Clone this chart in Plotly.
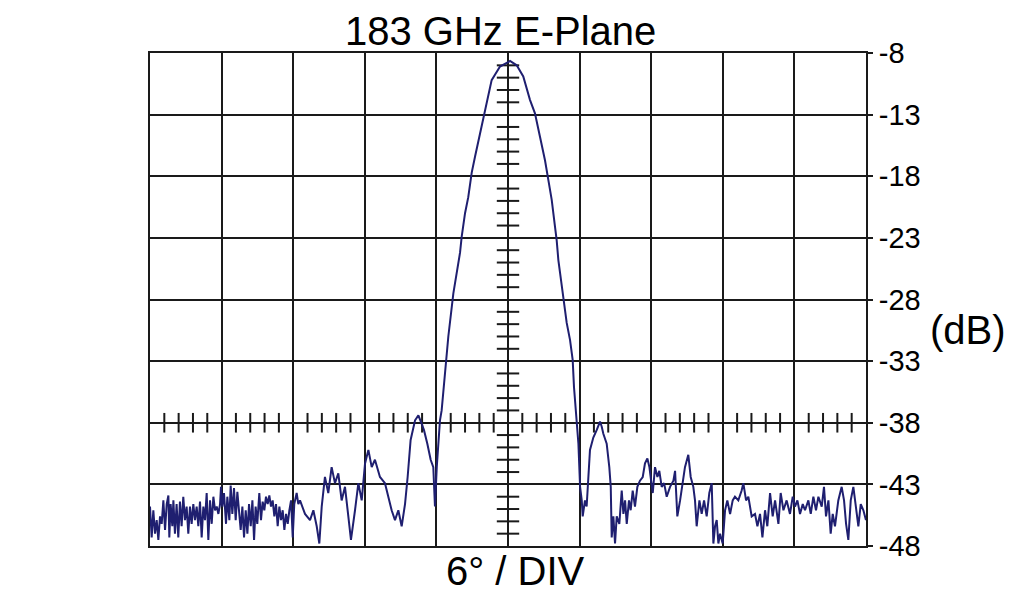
import numpy as np
import plotly.graph_objects as go

angle_deg = [
    -30.00, -29.86, -29.72, -29.58, -29.44, -29.30, -29.16, -29.02, -28.88, -28.74,
    -28.60, -28.46, -28.38, -28.27, -28.13, -28.04, -27.91, -27.77, -27.63, -27.49,
    -27.35, -27.21, -27.07, -26.93, -26.79, -26.65, -26.51, -26.37, -26.23, -26.09,
    -25.95, -25.81, -25.67, -25.53, -25.39, -25.25, -25.11, -24.97, -24.83, -24.69,
    -24.55, -24.41, -24.27, -24.13, -24.05, -23.94, -23.80, -23.63, -23.52, -23.35,
    -23.24, -23.10, -22.96, -22.82, -22.68, -22.54, -22.40, -22.26, -22.12, -21.98,
    -21.84, -21.70, -21.56, -21.42, -21.28, -21.15, -21.01, -20.84, -20.70, -20.56,
    -20.42, -20.28, -20.14, -20.00, -19.86, -19.72, -19.58, -19.44, -19.30, -19.16,
    -19.02, -18.88, -18.74, -18.60, -18.46, -18.32, -18.18, -18.04, -17.91, -17.71,
    -17.57, -17.43, -17.01, -16.59, -16.31, -16.03,
    -15.81, -15.61, -15.34, -15.06, -14.78, -14.50, -14.22, -13.94, -13.66, -13.38,
    -13.16, -12.82, -12.54, -12.26, -11.98, -11.70, -11.42, -11.15, -10.73, -10.31,
    -10.03, -9.75, -9.47, -9.19, -8.91, -8.63, -8.41, -8.16, -7.79, -7.51,
    -7.23, -7.04, -6.76, -6.48, -6.26, -6.12, -5.97, -5.70, -5.56, -5.42,
    -5.14, -5.00, -4.58, -4.02, -3.88, -3.60, -3.33, -3.04, -2.76, -2.35,
    -2.01, -1.65, -1.37, -0.67, 0.17, 0.73, 1.28, 1.84, 2.26, 2.68,
    3.10, 3.38, 3.66, 3.94, 4.08, 4.22, 4.64, 4.92, 5.20, 5.42,
    5.53, 5.65, 5.76, 5.90, 6.04, 6.18, 6.26, 6.45, 6.59, 6.73,
    6.87, 7.01, 7.15, 7.43, 7.71, 7.85, 7.99, 8.27, 8.49, 8.61,
    8.69, 8.83, 8.97, 9.11, 9.33, 9.53, 9.67, 9.81, 9.95, 10.14,
    10.28, 10.45, 10.64, 10.84, 11.06, 11.29, 11.48, 11.68, 11.85, 11.99,
    12.13, 12.32, 12.52, 12.68, 12.88, 13.08, 13.30, 13.58, 13.86, 14.00,
    14.19, 14.42, 14.64, 14.83, 15.11, 15.31, 15.53, 15.67, 15.81, 16.04,
    16.23, 16.43, 16.65, 16.87, 17.07, 17.21, 17.35, 17.49, 17.63, 17.77,
    17.99, 18.19, 18.38, 18.61, 18.83, 19.02, 19.30, 19.58, 19.72, 19.95,
    20.14, 20.42, 20.70, 20.90, 21.12, 21.32, 21.54, 21.73, 21.96, 22.18,
    22.38, 22.66, 22.85, 23.08, 23.35, 23.63, 23.86, 24.05, 24.25, 24.47,
    24.70, 24.89, 25.17, 25.37, 25.59, 25.81, 26.01, 26.29, 26.48, 26.65,
    26.85, 27.04, 27.21, 27.40, 27.68, 27.96, 28.16, 28.33, 28.52, 28.72,
    28.94, 29.16, 29.36, 29.56, 29.78, 30.0,
]
level_db = [
    -44.8, -47.3, -45.1, -47.0, -45.9, -47.5, -45.6, -46.2, -44.3, -46.7,
    -44.6, -43.9, -47.3, -44.6, -46.4, -44.3, -47.0, -44.6, -47.3, -44.4,
    -46.4, -44.0, -45.9, -44.8, -47.0, -44.8, -46.2, -44.6, -45.9, -44.8,
    -46.4, -44.4, -47.3, -44.8, -45.9, -43.7, -47.5, -44.3, -46.2, -44.0,
    -45.1, -44.8, -45.4, -44.6, -43.2, -44.8, -43.7, -46.2, -44.0, -45.9,
    -43.1, -45.4, -43.3, -45.9, -43.6, -45.1, -46.7, -44.8, -47.3, -45.1,
    -47.0, -44.6, -46.4, -44.3, -47.5, -44.8, -46.2, -43.7, -45.9, -44.4,
    -45.1, -44.0, -44.6, -43.9, -44.8, -44.3, -45.6, -44.6, -46.4, -44.8,
    -45.9, -45.1, -46.7, -45.4, -46.2, -45.1, -44.3, -47.3, -44.6, -43.7,
    -44.6, -44.3, -45.4, -45.9, -45.1, -46.4,
    -47.8, -44.8, -42.4, -43.7, -41.6, -42.9, -42.1, -44.3, -43.2, -45.6,
    -47.5, -45.1, -42.9, -44.3, -41.3, -40.2, -41.6, -41.0, -42.4, -42.9,
    -44.0, -45.1, -45.9, -45.1, -46.4, -44.6, -42.4, -39.4, -37.8, -37.4,
    -38.1, -38.6, -39.7, -41.0, -41.6, -44.8, -41.6, -37.8, -37.0, -35.4,
    -32.9, -31.0, -27.5, -24.2, -22.9, -21.0, -19.7, -17.7, -16.4, -14.5,
    -12.9, -11.2, -10.2, -9.1, -8.65, -9.0, -9.9, -11.8, -12.9, -14.8,
    -16.7, -18.3, -19.9, -22.1, -23.2, -24.8, -27.8, -29.9, -31.3, -32.9,
    -35.1, -36.5, -37.8, -39.7, -43.2, -44.3, -45.6, -44.3, -44.8, -42.9,
    -40.2, -39.7, -39.2, -38.6, -37.9, -38.3, -38.9, -39.7, -41.6, -43.2,
    -47.3, -45.6, -47.8, -45.6, -46.2, -43.5, -45.4, -44.3, -46.2, -44.3,
    -45.1, -43.5, -44.8, -43.2, -42.7, -42.4, -41.3, -40.9, -41.6, -42.7,
    -43.7, -41.6, -42.4, -41.9, -43.2, -42.9, -44.0, -43.2, -42.7, -41.9,
    -45.6, -44.3, -42.7, -41.6, -40.6, -42.4, -43.2, -44.3, -46.4, -44.3,
    -45.4, -44.3, -45.6, -43.7, -42.9, -47.8, -46.4, -45.9, -47.8, -47.0,
    -47.8, -45.1, -44.3, -45.4, -44.3, -44.0, -44.3, -43.5, -42.9, -44.3,
    -44.0, -45.6, -45.4, -46.4, -45.4, -47.3, -45.1, -46.4, -43.7, -45.6,
    -44.3, -46.2, -43.7, -45.1, -44.3, -45.4, -44.0, -44.8, -44.3, -45.4,
    -44.6, -45.1, -44.3, -45.4, -44.0, -45.1, -44.0, -44.8, -43.2, -45.6,
    -44.3, -47.0, -45.4, -46.4, -44.3, -43.2, -44.3, -46.2, -47.5, -44.3,
    -43.2, -44.8, -46.4, -44.6, -45.1, -45.9,
]

y_ticks = [-8, -13, -18, -23, -28, -33, -38, -43, -48]
y_tick_text = ["-8", "-13", "-18", "-23", "-28", "-33", "-38", "-43", "-48"]
x_range = [-30, 30]
y_range = [-48, -8]

FONT = "Liberation Sans, Arial, Helvetica, sans-serif"
GRID = "#1a1a1a"

fig = go.Figure()

# minor ticks along the centre vertical line (every 1 dB)
cy = [float(v) for v in np.arange(-47, -8) if (v + 8) % 5 != 0]
fig.add_trace(go.Scatter(x=[0] * len(cy), y=cy, mode="markers",
                         marker=dict(symbol="line-ew", size=16, line=dict(color=GRID, width=2)),
                         hoverinfo="skip", showlegend=False))
# minor ticks along the -38 dB line (every 1.2 deg)
cx = [round(float(v), 2) for v in np.arange(-30, 30.01, 1.2) if abs(round(v / 6) * 6 - v) > 1e-6]
fig.add_trace(go.Scatter(x=cx, y=[-38] * len(cx), mode="markers",
                         marker=dict(symbol="line-ns", size=14, line=dict(color=GRID, width=2)),
                         hoverinfo="skip", showlegend=False))

fig.add_trace(go.Scatter(x=angle_deg, y=level_db, mode="lines",
                         line=dict(color="#1f1f70", width=2),
                         showlegend=False))

fig.update_layout(
    width=1012, height=592,
    margin=dict(l=142, r=154, t=45, b=54, autoexpand=False),
    paper_bgcolor="white", plot_bgcolor="white",
    font=dict(family=FONT, color="black"),
    showlegend=False,
)
fig.update_xaxes(range=x_range, dtick=6, tick0=0, showgrid=True, gridcolor=GRID, gridwidth=1.6,
                 showticklabels=False, ticks="", zeroline=False, automargin=False,
                 showline=True, linecolor=GRID, linewidth=2, mirror=True)
fig.update_yaxes(range=y_range, tickvals=y_ticks, ticktext=y_tick_text, side="right",
                 showgrid=True, gridcolor=GRID, automargin=False,
                 gridwidth=1.6, ticks="outside", ticklen=5, tickcolor=GRID, tickwidth=1.5,
                 tickfont=dict(size=29, family=FONT), zeroline=False,
                 showline=True, linecolor=GRID, linewidth=2, mirror=True)

fig.add_annotation(text="183 GHz E-Plane", xref="paper", yref="paper",
                   x=(500 - 150) / 716, y=1 + (53 - 31) / 493, xanchor="center", yanchor="middle",
                   showarrow=False, font=dict(size=40, family=FONT))
fig.add_annotation(text="6° / DIV", xref="paper", yref="paper",
                   x=(515 - 150) / 716, y=-(571 - 546) / 493, xanchor="center", yanchor="middle",
                   showarrow=False, font=dict(size=40, family=FONT))
fig.add_annotation(text="(dB)", xref="paper", yref="paper",
                   x=(968 - 150) / 716, y=(546 - 330) / 493, xanchor="center", yanchor="middle",
                   showarrow=False, font=dict(size=40, family=FONT))

fig.write_html("out.html")
